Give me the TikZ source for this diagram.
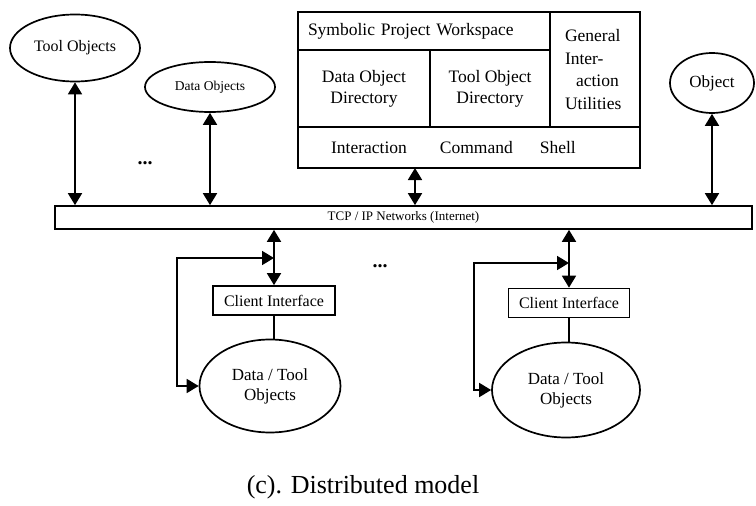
\documentclass[tikz,border=0pt]{standalone}
\usepackage{fontspec}
\setmainfont{Liberation Serif}
\usepackage{tikz}
\usetikzlibrary{
  arrows.meta,
  positioning,
  shapes.geometric
}

\begin{document}
\begin{tikzpicture}[
  x=1pt, y=-1pt,
  obj/.style={ellipse, draw, line width=1.7pt, inner sep=0pt},
  cell/.style={rectangle, draw, line width=1.7pt, inner sep=0pt, align=center, font=\fontsize{17.5}{21}\selectfont},
  client/.style={rectangle, draw, line width=1.7pt, inner sep=0pt, minimum height=29pt, font=\fontsize{16}{19}\selectfont},
  biarr/.style={{Triangle[length=12pt,width=14pt]}-{Triangle[length=12pt,width=14pt]}, line width=1.8pt},
  link/.style={line width=1.8pt},
  dots/.style={font=\fontsize{20}{20}\selectfont\bfseries},
]
\useasboundingbox (0,0) rectangle (756,506);

% objects on the network
\node[obj, minimum width=130pt, minimum height=67pt, font=\fontsize{16}{19}\selectfont] (tool) at (75,48) {Tool Objects};
\node[obj, minimum width=130pt, minimum height=50pt, font=\fontsize{13.5}{16}\selectfont] (data) at (210,87) {Data Objects};
\node[obj, minimum width=84pt, minimum height=60pt, font=\fontsize{17}{20}\selectfont] (object) at (712,83) {Object};
\node[dots] (dotsa) at (145,163) {...};

% project workspace
\node[cell, minimum width=252pt, minimum height=38pt, text width=232pt, align=left] (spw) at (424,31) {Symbolic Project Workspace};
\node[cell, minimum width=132pt, minimum height=77pt] (dod) at (364,88.5) {Data Object\\Directory};
\node[cell, minimum width=120pt, minimum height=77pt] (tod) at (490,88.5) {Tool Object\\Directory};
\node[cell, minimum width=90pt, minimum height=115pt, text width=60pt, align=left, font=\fontsize{17.5}{22.5}\selectfont] (giu) at (595,69.5) {General\\Inter-\\\hspace*{11pt}action\\Utilities};
\node[cell, minimum width=342pt, minimum height=41pt] (shell) at (469,147.5) {Interaction\hspace{33pt}Command\hspace{27pt}Shell\hspace*{31pt}};
\coordinate (wsport) at (415,168);

% network
\node[rectangle, draw, line width=1.7pt, minimum width=697pt, minimum height=23pt, inner sep=0pt, font=\fontsize{13}{15}\selectfont] (net) at (403.5,217.5) {TCP / IP Networks (Internet)};

\draw[biarr] (tool.south) -- (tool.south |- net.north);
\draw[biarr] (data.south) -- (data.south |- net.north);
\draw[biarr] (object.south) -- (object.south |- net.north);
\draw[biarr] (wsport) -- (wsport |- net.north);

% clients
\node[client, minimum width=122pt] (cia) at (274,300.5) {Client Interface};
\node[obj, minimum width=141pt, minimum height=93pt, align=center, font=\fontsize{17}{20}\selectfont] (dta) at (270,386) {Data / Tool\\Objects};
\node[client, minimum width=121pt] (cib) at (569,303) {Client Interface};
\node[obj, minimum width=148pt, minimum height=95pt, align=center, font=\fontsize{17}{20}\selectfont] (dtb) at (566,390) {Data / Tool\\Objects};
\node[dots] (dotsb) at (380,266) {...};

\draw[biarr] (cia.north |- net.south) -- (cia.north);
\draw[link] (cia.south) -- (cia.south |- dta.north);
\coordinate (tapa) at (274,258);
\draw[biarr] (dta.west) -- ++(-22,0) |- (tapa);

\draw[biarr] (cib.north |- net.south) -- (cib.north);
\draw[link] (cib.south) -- (cib.south |- dtb.north);
\coordinate (tapb) at (569,263);
\draw[biarr] (dtb.west) -- ++(-17,0) |- (tapb);

% caption
\node[font=\fontsize{26}{30}\selectfont] (caption) at (363,487) {(c). Distributed model};

\end{tikzpicture}
\end{document}
